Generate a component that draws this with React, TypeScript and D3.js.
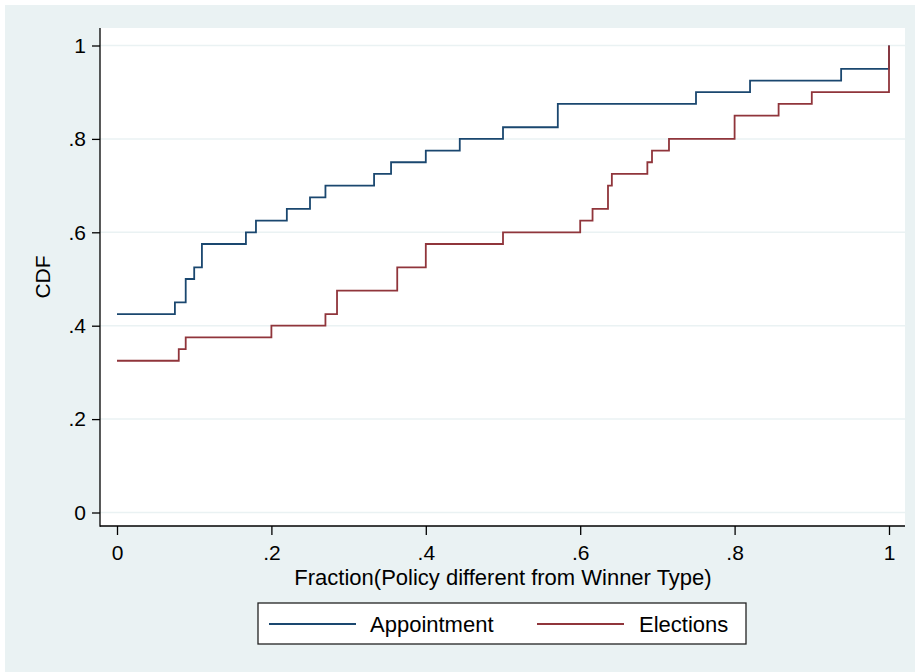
import React, { useEffect, useRef } from 'react';
import * as d3 from 'd3';

// step points of the empirical CDFs (x where the jump happens, level after it)
const appointmentX = [0, 0.075, 0.089, 0.1, 0.11, 0.167, 0.18, 0.22, 0.25, 0.27, 0.333, 0.355, 0.4, 0.444, 0.5, 0.571, 0.75, 0.82, 0.938, 1];
const appointmentY = [0.425, 0.45, 0.5, 0.525, 0.575, 0.6, 0.625, 0.65, 0.675, 0.7, 0.725, 0.75, 0.775, 0.8, 0.825, 0.875, 0.9, 0.925, 0.95, 1];

const electionsX = [0, 0.08, 0.089, 0.2, 0.27, 0.285, 0.363, 0.4, 0.5, 0.6, 0.616, 0.636, 0.641, 0.687, 0.693, 0.715, 0.8, 0.857, 0.9, 1];
const electionsY = [0.325, 0.35, 0.375, 0.4, 0.425, 0.475, 0.525, 0.575, 0.6, 0.625, 0.65, 0.7, 0.725, 0.75, 0.775, 0.8, 0.85, 0.875, 0.9, 1];

const tickValues = [0, 0.2, 0.4, 0.6, 0.8, 1];
const tickLabels = ['0', '.2', '.4', '.6', '.8', '1'];

const seriesNames = ['Appointment', 'Elections'];

export default function App() {
  const ref = useRef<SVGSVGElement>(null);

  useEffect(() => {
    if (!ref.current) return;
    const svg = d3.select(ref.current);
    svg.selectAll('*').remove();

    const width = 915;
    const height = 672;
    const plot = { left: 100, right: 905, top: 28, bottom: 526 };
    const font = '"Liberation Sans", Arial, sans-serif';
    const navy = '#1A476F';
    const maroon = '#90353B';
    const bg = '#EAF2F3';

    const x = d3.scaleLinear().domain([0, 1]).range([117, 889]);
    const y = d3.scaleLinear().domain([0, 1]).range([512.5, 45.5]);

    // outer background
    svg.append('rect')
      .attr('x', 5).attr('y', 5)
      .attr('width', width - 5).attr('height', height - 5)
      .attr('fill', bg);

    // plot region
    svg.append('rect')
      .attr('x', plot.left).attr('y', plot.top)
      .attr('width', plot.right - plot.left).attr('height', plot.bottom - plot.top)
      .attr('fill', '#fff');

    // grid lines
    svg.append('g')
      .selectAll('line')
      .data(tickValues)
      .enter()
      .append('line')
      .attr('x1', plot.left)
      .attr('x2', plot.right)
      .attr('y1', d => y(d))
      .attr('y2', d => y(d))
      .attr('stroke', bg)
      .attr('stroke-width', 1.5);

    // step lines
    const series = [
      { xs: appointmentX, ys: appointmentY, color: navy },
      { xs: electionsX, ys: electionsY, color: maroon },
    ];
    const line = d3.line<[number, number]>()
      .x(d => x(d[0]))
      .y(d => y(d[1]))
      .curve(d3.curveStepAfter);

    series.forEach(s => {
      const pts = s.xs.map((v, i) => [v, s.ys[i]] as [number, number]);
      svg.append('path')
        .datum(pts)
        .attr('fill', 'none')
        .attr('stroke', s.color)
        .attr('stroke-width', 1.8)
        .attr('d', line);
    });

    // y axis
    const yAxis = svg.append('g')
      .attr('transform', `translate(${plot.left},0)`)
      .call(d3.axisLeft(y).tickValues(tickValues).tickSize(8).tickPadding(6)
        .tickFormat((_, i) => tickLabels[i]));
    yAxis.select('.domain').remove();
    yAxis.selectAll('line').attr('stroke', '#000').attr('stroke-width', 1.3);
    yAxis.selectAll('text')
      .attr('font-family', font)
      .attr('font-size', 21)
      .attr('fill', '#000');

    // x axis
    const xAxis = svg.append('g')
      .attr('transform', `translate(0,${plot.bottom})`)
      .call(d3.axisBottom(x).tickValues(tickValues).tickSize(9).tickPadding(10)
        .tickFormat((_, i) => tickLabels[i]));
    xAxis.select('.domain').remove();
    xAxis.selectAll('line').attr('stroke', '#000').attr('stroke-width', 1.3);
    xAxis.selectAll('text')
      .attr('font-family', font)
      .attr('font-size', 21)
      .attr('fill', '#000');

    // axis lines
    svg.append('line')
      .attr('x1', plot.left).attr('x2', plot.left)
      .attr('y1', plot.top).attr('y2', plot.bottom + 0.65)
      .attr('stroke', '#000').attr('stroke-width', 1.3);
    svg.append('line')
      .attr('x1', plot.left).attr('x2', plot.right)
      .attr('y1', plot.bottom).attr('y2', plot.bottom)
      .attr('stroke', '#000').attr('stroke-width', 1.3);

    // axis titles
    svg.append('text')
      .attr('transform', `translate(50,${(plot.top + plot.bottom) / 2}) rotate(-90)`)
      .attr('text-anchor', 'middle')
      .attr('font-family', font)
      .attr('font-size', 21)
      .attr('fill', '#000')
      .text('CDF');

    svg.append('text')
      .attr('x', (x(0) + x(1)) / 2)
      .attr('y', 585)
      .attr('text-anchor', 'middle')
      .attr('font-family', font)
      .attr('font-size', 22)
      .attr('fill', '#000')
      .text('Fraction(Policy different from Winner Type)');

    // legend
    const legend = svg.append('g');
    legend.append('rect')
      .attr('x', 258).attr('y', 603)
      .attr('width', 488).attr('height', 41)
      .attr('fill', '#fff')
      .attr('stroke', '#222')
      .attr('stroke-width', 1.3);

    const entries = [
      { name: seriesNames[0], color: navy, x0: 269, tx: 370 },
      { name: seriesNames[1], color: maroon, x0: 537, tx: 639 },
    ];
    entries.forEach(e => {
      legend.append('line')
        .attr('x1', e.x0).attr('x2', e.x0 + 87)
        .attr('y1', 624).attr('y2', 624)
        .attr('stroke', e.color)
        .attr('stroke-width', 1.8);
      legend.append('text')
        .attr('x', e.tx).attr('y', 632)
        .attr('font-family', font)
        .attr('font-size', 22)
        .attr('fill', '#000')
        .text(e.name);
    });
  }, []);

  return (
    <svg
      ref={ref}
      width={915}
      height={672}
      style={{ position: 'absolute', left: 0, top: 0, display: 'block', background: '#fff' }}
    />
  );
}
